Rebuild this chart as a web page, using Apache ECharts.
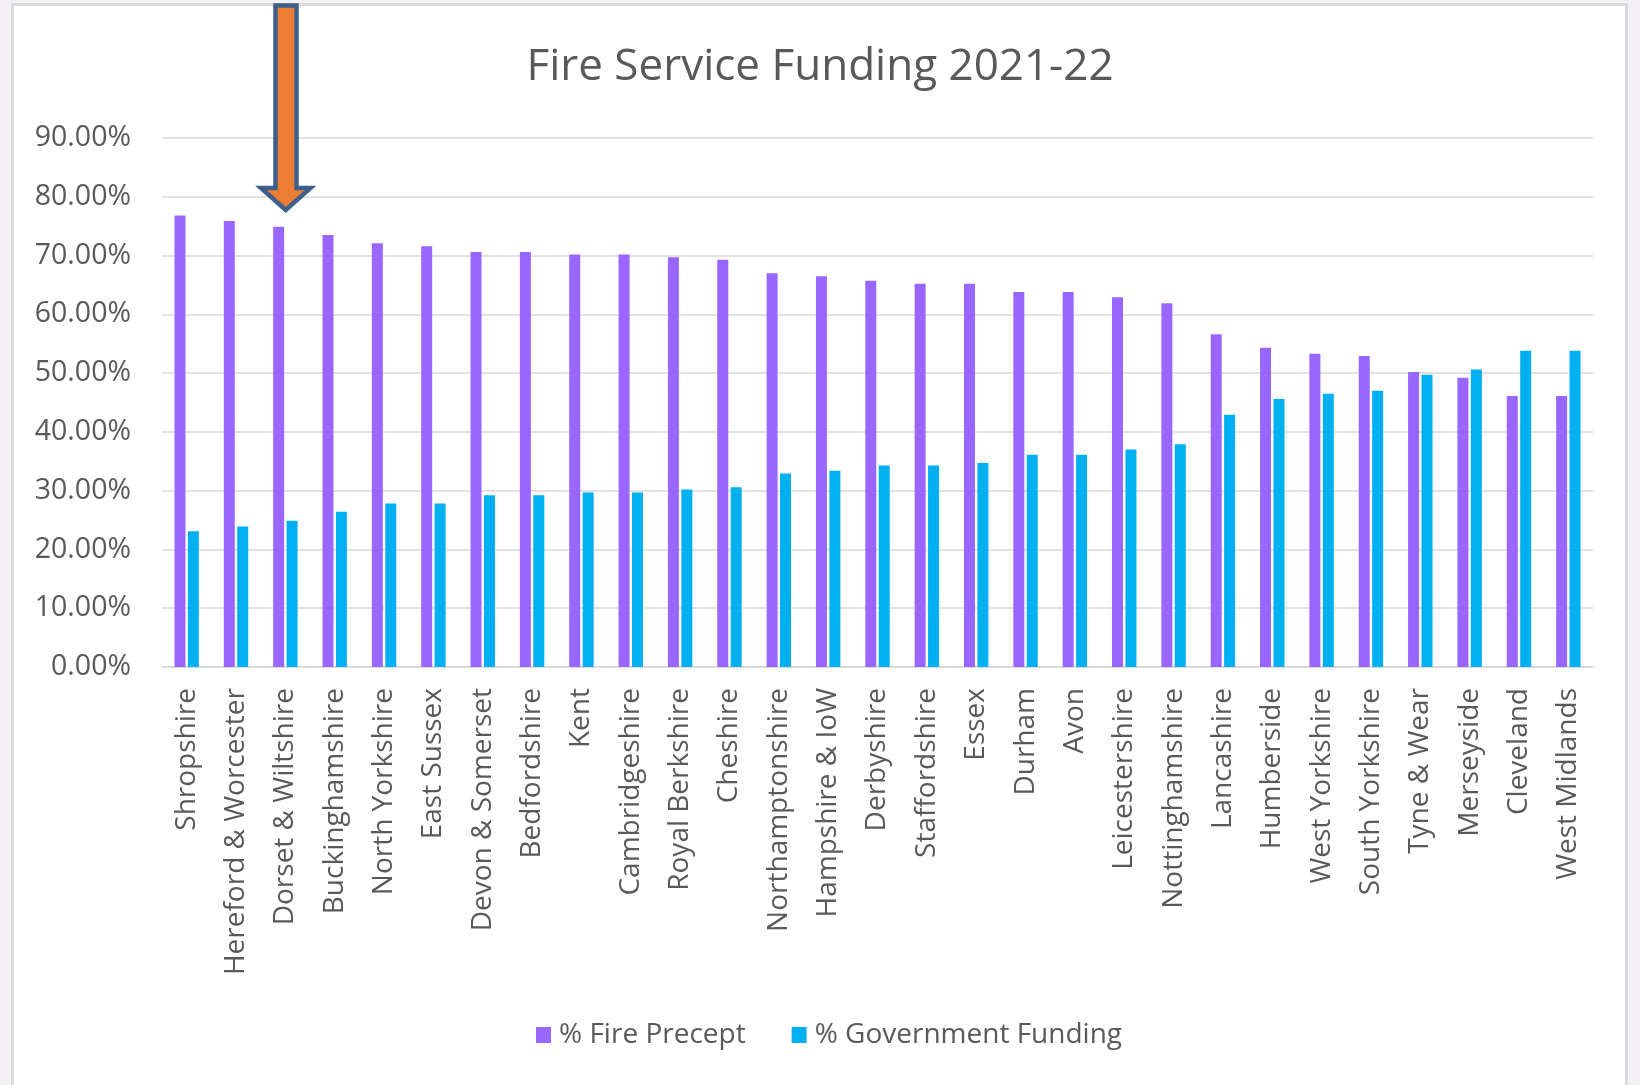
<!DOCTYPE html>
<html>
<head>
<meta charset="utf-8">
<title>Fire Service Funding 2021-22</title>
<script src="https://cdn.jsdelivr.net/npm/echarts@6/dist/echarts.min.js"></script>
<style>
  html, body { margin: 0; padding: 0; background: #f2f0f4; }
  #panel {
    position: absolute; left: 11px; top: 3px; width: 1617px; height: 1100px;
    background: #ffffff; border: 3px solid #dadada; box-sizing: border-box;
  }
  #chart { position: absolute; left: 0; top: 0; width: 1640px; height: 1085px; }
</style>
</head>
<body>
<div id="panel"></div>
<div id="chart"></div>
<script>
// Fire and rescue authorities, ordered by share of funding from the precept
const categories = [
  'Shropshire', 'Hereford & Worcester', 'Dorset & Wiltshire', 'Buckinghamshire',
  'North Yorkshire', 'East Sussex', 'Devon & Somerset', 'Bedfordshire', 'Kent',
  'Cambridgeshire', 'Royal Berkshire', 'Cheshire', 'Northamptonshire',
  'Hampshire & IoW', 'Derbyshire', 'Staffordshire', 'Essex', 'Durham', 'Avon',
  'Leicestershire', 'Nottinghamshire', 'Lancashire', 'Humberside',
  'West Yorkshire', 'South Yorkshire', 'Tyne & Wear', 'Merseyside',
  'Cleveland', 'West Midlands'
];

// % of funding raised through the council tax fire precept
const firePrecept = [
  76.8, 75.9, 74.9, 73.5, 72.1, 71.6, 70.6, 70.6, 70.2, 70.2,
  69.7, 69.3, 67.0, 66.5, 65.7, 65.2, 65.2, 63.8, 63.8, 62.9,
  61.9, 56.6, 54.3, 53.3, 52.9, 50.2, 49.2, 46.1, 46.1
];

// % of funding from central government
const governmentFunding = [
  23.1, 23.9, 24.9, 26.4, 27.8, 27.8, 29.2, 29.2, 29.7, 29.7,
  30.2, 30.6, 32.9, 33.4, 34.3, 34.3, 34.7, 36.1, 36.1, 37.0,
  37.9, 42.9, 45.6, 46.5, 47.0, 49.7, 50.6, 53.8, 53.8
];

const seriesNames = ['% Fire Precept', '% Government Funding'];
const yTicks = { min: 0, max: 90, step: 10 };

const FONT = "'Open Sans', 'Noto Sans', sans-serif";
const TEXT = '#595959';
const GRID = '#d9d9d9';

const chart = echarts.init(document.getElementById('chart'), null, { renderer: 'canvas' });

chart.setOption({
  backgroundColor: 'transparent',
  animation: false,
  title: {
    text: 'Fire Service Funding 2021-22',
    left: 'center',
    top: 40,
    textStyle: { fontFamily: FONT, fontSize: 44, fontWeight: 'normal', color: TEXT }
  },
  legend: {
    data: seriesNames,
    bottom: 31,
    left: 531,
    itemWidth: 15,
    itemHeight: 16,
    itemGap: 46,
    icon: 'rect',
    textStyle: { fontFamily: FONT, fontSize: 28, color: TEXT, padding: [0, 0, 0, 3] }
  },
  grid: { left: 162, right: 47, top: 138, bottom: 418, containLabel: false },
  xAxis: {
    type: 'category',
    data: categories,
    axisTick: { show: false },
    axisLine: { lineStyle: { color: GRID, width: 1.5 } },
    axisLabel: {
      interval: 0,
      rotate: 90,
      margin: 21,
      fontFamily: FONT,
      fontSize: 28,
      color: TEXT
    }
  },
  yAxis: {
    type: 'value',
    min: yTicks.min,
    max: yTicks.max,
    interval: yTicks.step,
    axisLine: { show: false },
    axisTick: { show: false },
    splitLine: { lineStyle: { color: GRID, width: 1.5 } },
    axisLabel: {
      margin: 31,
      fontFamily: FONT,
      fontSize: 28.5,
      color: TEXT,
      formatter: v => v.toFixed(2) + '%'
    }
  },
  series: [
    {
      name: seriesNames[0],
      type: 'bar',
      data: firePrecept,
      barWidth: 11,
      barGap: '22%',
      itemStyle: { color: '#9966ff' }
    },
    {
      name: seriesNames[1],
      type: 'bar',
      data: governmentFunding,
      barWidth: 11,
      barGap: '22%',
      itemStyle: { color: '#00b0f0' }
    }
  ],
  graphic: [
    {
      // callout arrow pointing at Dorset & Wiltshire
      type: 'polygon',
      z: 100,
      shape: {
        points: [
          [275.5, 5.5], [296.5, 5.5], [296.5, 188], [310.5, 188],
          [285.7, 210], [261, 188], [275.5, 188]
        ]
      },
      style: { fill: '#ed7d31', stroke: '#3d5f8c', lineWidth: 4.5, lineJoin: 'miter' }
    }
  ]
});
</script>
</body>
</html>
